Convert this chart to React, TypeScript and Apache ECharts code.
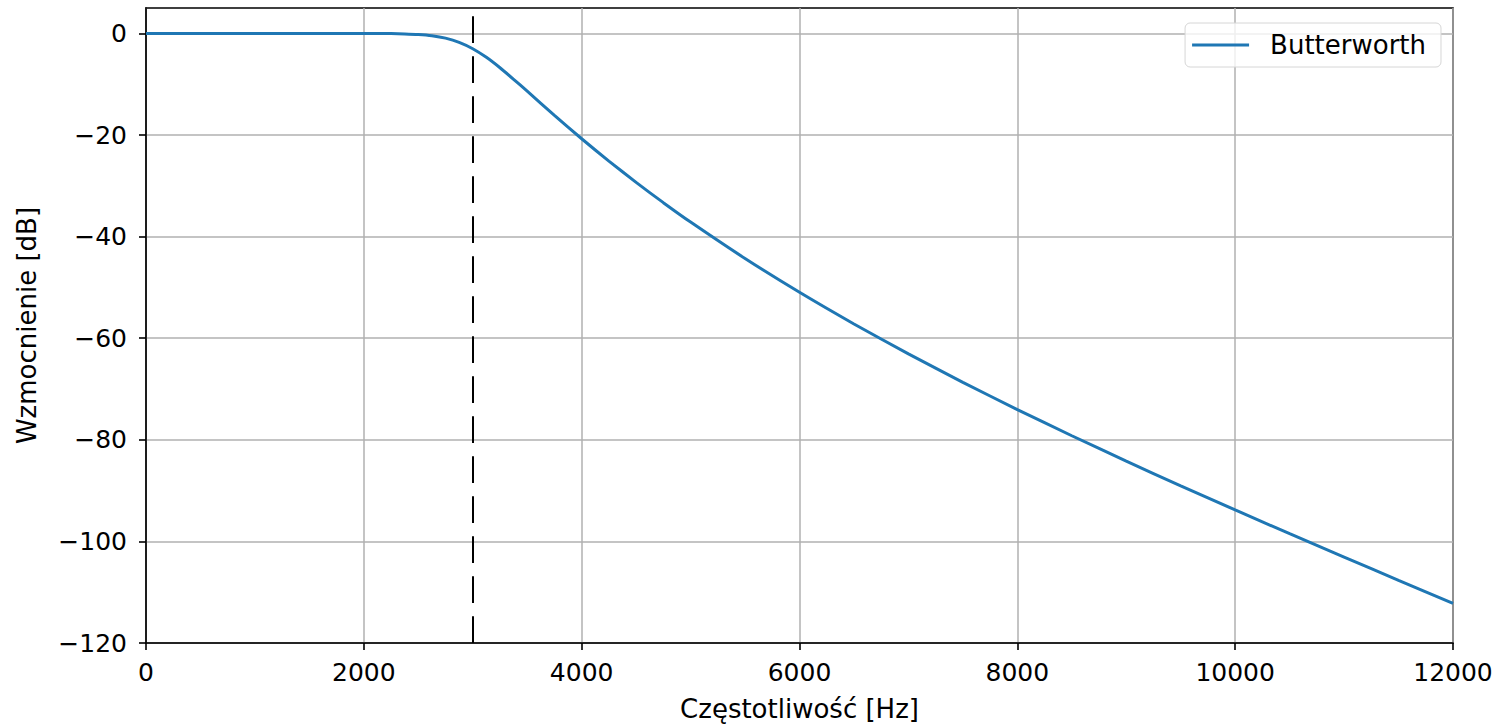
import React, { useEffect, useRef } from "react";
import * as echarts from "echarts";

const freqHz = [
  0, 500, 1000, 1500, 1750, 2000, 2125, 2250, 2375, 2500, 2625, 2750, 2875, 3000,
  3125, 3250, 3375, 3500, 3750, 4000, 4250, 4500, 4750, 5000, 5500, 6000, 6500,
  7000, 7500, 8000, 8500, 9000, 9500, 10000, 10500, 11000, 11500, 12000,
];
const gainDb = [
  0, 0, 0, 0, -0.001, -0.006, -0.016, -0.04, -0.095, -0.215, -0.463, -0.936, -1.755, -3.01,
  -4.71, -6.76, -9.03, -11.37, -16.13, -20.74, -25.14, -29.33, -33.32, -37.14, -44.31, -50.97, -57.2,
  -63.09, -68.69, -74.05, -79.2, -84.2, -89.06, -93.81, -98.48, -103.09, -107.66, -112.21,
];
const cutoffHz = 3000;
const xTicks = [0, 2000, 4000, 6000, 8000, 10000, 12000];
const yTicks = [-120, -100, -80, -60, -40, -20, 0];
const seriesName = "Butterworth";
const xName = "Częstotliwość [Hz]";
const yName = "Wzmocnienie [dB]";

const FONT = "DejaVu Sans";
const TEXT_SIZE = 26;
const TICK_SIZE = 25;

export default function App() {
  const ref = useRef<HTMLDivElement>(null);
  useEffect(() => {
    if (!ref.current) return;
    const chart = echarts.init(ref.current, undefined, { renderer: "svg" });
    const fmtNum = (v: number) => (v < 0 ? "\u2212" + Math.abs(v) : String(v));
    chart.setOption({
      animation: false,
      backgroundColor: "#fff",
      grid: {
        left: 146,
        top: 8,
        right: 50,
        bottom: 84,
        show: true,
        borderColor: "#000",
        borderWidth: 1.6,
        backgroundColor: "transparent",
      },
      legend: {
        data: [seriesName],
        right: 62,
        top: 23,
        icon: "rect",
        itemWidth: 57,
        itemHeight: 3,
        padding: [9, 15, 9, 7],
        borderColor: "#d6d6d6",
        borderWidth: 1,
        borderRadius: 5,
        backgroundColor: "rgba(255,255,255,0.8)",
        textStyle: {
          fontFamily: FONT,
          fontSize: TEXT_SIZE,
          color: "#000",
          padding: [0, 0, 0, 16],
        },
      },
      xAxis: {
        type: "value",
        min: 0,
        max: 12000,
        interval: 2000,
        name: xName,
        nameLocation: "middle",
        nameGap: 53,
        nameTextStyle: { fontFamily: FONT, fontSize: TEXT_SIZE, color: "#000" },
        axisLine: { show: true, onZero: false, lineStyle: { color: "#000", width: 1.6 } },
        axisTick: {
          show: true,
          inside: false,
          length: 7,
          lineStyle: { color: "#000", width: 1.6 },
          customValues: xTicks,
        },
        axisLabel: {
          fontFamily: FONT,
          fontSize: TICK_SIZE,
          color: "#000",
          margin: 17,
          customValues: xTicks,
          formatter: (v: number) => fmtNum(v),
        },
        splitLine: { show: true, lineStyle: { color: "#b0b0b0", width: 1.5 } },
      },
      yAxis: {
        type: "value",
        min: -120,
        max: 5,
        interval: 20,
        name: yName,
        nameLocation: "middle",
        nameGap: 106,
        nameRotate: 90,
        nameTextStyle: { fontFamily: FONT, fontSize: TEXT_SIZE, color: "#000" },
        axisLine: { show: true, onZero: false, lineStyle: { color: "#000", width: 1.6 } },
        axisTick: {
          show: true,
          inside: false,
          length: 7,
          lineStyle: { color: "#000", width: 1.6 },
          customValues: yTicks,
        },
        axisLabel: {
          fontFamily: FONT,
          fontSize: TICK_SIZE,
          color: "#000",
          margin: 19,
          customValues: yTicks,
          formatter: (v: number) => fmtNum(v),
        },
        splitLine: { show: true, lineStyle: { color: "#b0b0b0", width: 1.5 } },
      },
      series: [
        {
          name: seriesName,
          type: "line",
          data: freqHz.map((f, i) => [f, gainDb[i]]),
          symbol: "none",
          smooth: 0.2,
          lineStyle: { color: "#1f77b4", width: 3 },
          itemStyle: { color: "#1f77b4" },
          z: 3,
          markLine: {
            silent: true,
            symbol: ["none", "none"],
            label: { show: false },
            lineStyle: { color: "#000", width: 2, type: [26.7, 13.3] },
            data: [
              [
                { coord: [cutoffHz, -120] },
                { coord: [cutoffHz, 5] },
              ],
            ],
          },
        },
      ],
    });
    return () => chart.dispose();
  }, []);
  return (
    <div
      ref={ref}
      style={{ position: "fixed", left: 0, top: 0, width: 1503, height: 727 }}
    />
  );
}
